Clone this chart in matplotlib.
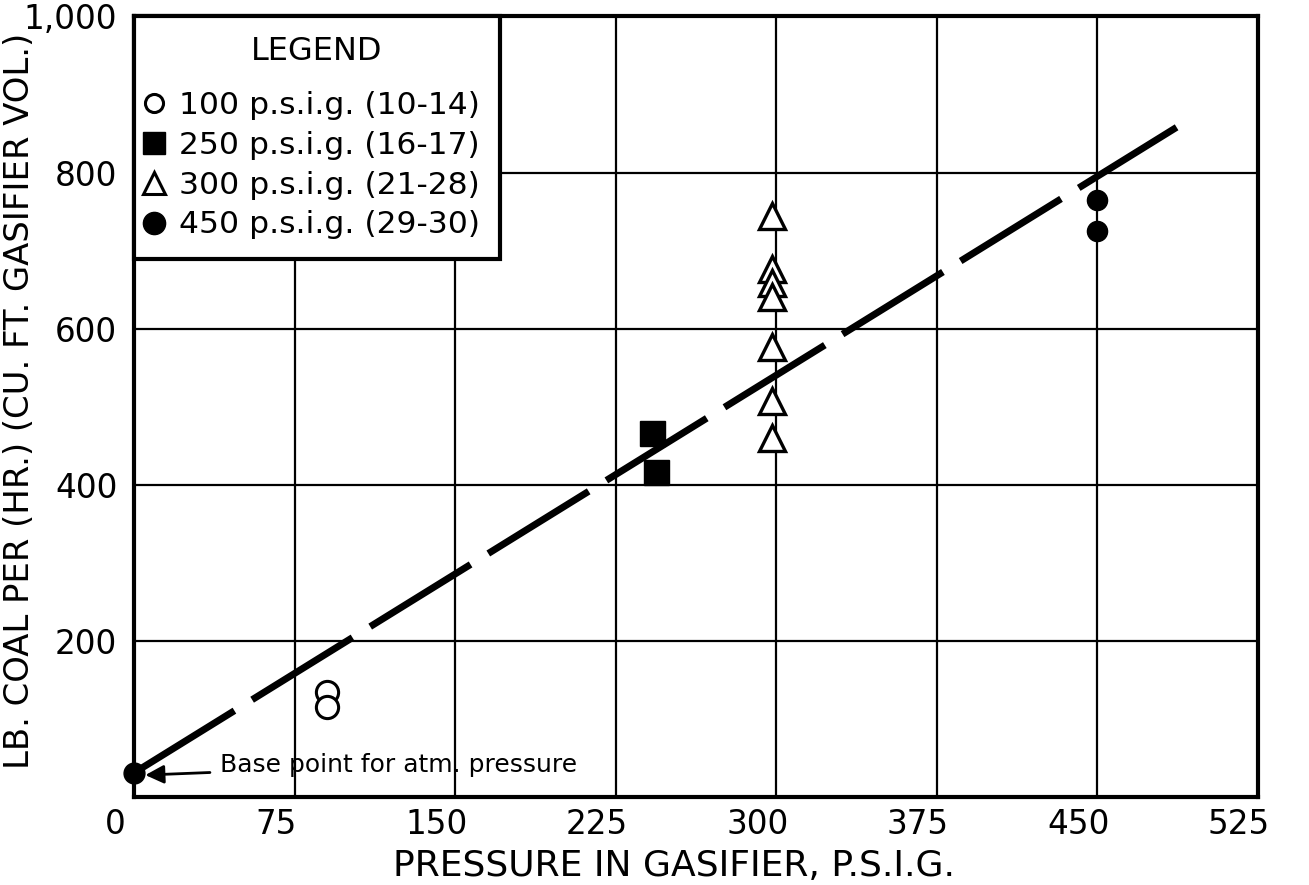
import matplotlib
matplotlib.use('Agg')
import matplotlib.pyplot as plt
import matplotlib.transforms as mtransforms
from matplotlib.lines import Line2D

# %%
plt.rcParams['font.family'] = ['DejaVu Sans']

# data
p100_x = [90, 90]
p100_y = [134, 115]
p250_x = [242, 244]
p250_y = [466, 416]
p300_x = [298, 298, 298, 298, 298, 298, 298]
p300_y = [745, 677, 658, 641, 576, 507, 460]
p450_x = [450, 450]
p450_y = [765, 725]
base_x = [0]
base_y = [31]
fit_x = [0, 487]
fit_y = [31, 858]

x_ticks = [0, 75, 150, 225, 300, 375, 450, 525]
y_ticks = [200, 400, 600, 800, 1000]
y_tick_labels = ['200', '400', '600', '800', '1,000']
legend_labels = ['100 p.s.i.g. (10-14)', '250 p.s.i.g. (16-17)',
                 '300 p.s.i.g. (21-28)', '450 p.s.i.g. (29-30)']

# %%
fig = plt.figure(figsize=(13.09, 8.85), dpi=100)
ax = fig.add_axes([0.1024, 0.0994, 0.8586, 0.882])
ax.set_xlim(0, 525)
ax.set_ylim(0, 1000)

ax.set_xticks(x_ticks)
ax.set_yticks(y_ticks)
ax.set_yticklabels(y_tick_labels)
ax.tick_params(length=0, labelsize=23.5)
ax.tick_params(axis='x', pad=8)
ax.tick_params(axis='y', pad=12)
shift = mtransforms.ScaledTranslation(-0.19, 0, fig.dpi_scale_trans)
for lab in ax.get_xticklabels():
    lab.set_transform(lab.get_transform() + shift)
ax.grid(True, color='black', lw=1.6)
ax.set_axisbelow(True)
for s in ax.spines.values():
    s.set_linewidth(3)

ax.plot(fit_x, fit_y, color='black', lw=5, dashes=(17, 3), dash_capstyle='butt', zorder=3)

ax.plot(p100_x, p100_y, 'o', ms=16, mfc='white', mec='black', mew=2.2, zorder=4)
ax.plot(p250_x, p250_y, 's', ms=18, color='black', zorder=4)
ax.plot(p300_x, p300_y, '^', ms=19, mfc='white', mec='black', mew=2.4, zorder=4)
ax.plot(p450_x, p450_y, 'o', ms=14.5, color='black', zorder=4)
ax.plot(base_x, base_y, 'o', ms=15, color='black', zorder=5, clip_on=False)

ax.annotate('Base point for atm. pressure', xy=(4, 28), xytext=(40, 41),
            fontsize=18, va='center', ha='left',
            arrowprops=dict(arrowstyle='-|>', color='black', lw=2,
                            mutation_scale=28, shrinkA=5, shrinkB=2))

ax.set_xlabel('PRESSURE IN GASIFIER, P.S.I.G.', fontsize=26)
ax.xaxis.set_label_coords(0.48, -0.067)
ax.set_ylabel('LB. COAL PER (HR.) (CU. FT. GASIFIER VOL.)', fontsize=24.4)
ax.yaxis.set_label_coords(-0.087, 0.508)

handles = [
    Line2D([], [], ls='none', marker='o', ms=13, mfc='white', mec='black', mew=2.2),
    Line2D([], [], ls='none', marker='s', ms=16, color='black'),
    Line2D([], [], ls='none', marker='^', ms=16, mfc='white', mec='black', mew=2.2),
    Line2D([], [], ls='none', marker='o', ms=16, color='black'),
]
leg = ax.legend(handles, legend_labels, title='LEGEND', loc='upper left',
                fontsize=22.6, title_fontsize=23, fancybox=False,
                borderaxespad=0, handlelength=0, handletextpad=0.82,
                labelspacing=0.35, borderpad=0.62, framealpha=1)
leg._legend_box.sep = 17
leg.get_frame().set_edgecolor('black')
leg.get_frame().set_linewidth(3)
leg.set_zorder(6)

fig.savefig('out.png', dpi=100)
